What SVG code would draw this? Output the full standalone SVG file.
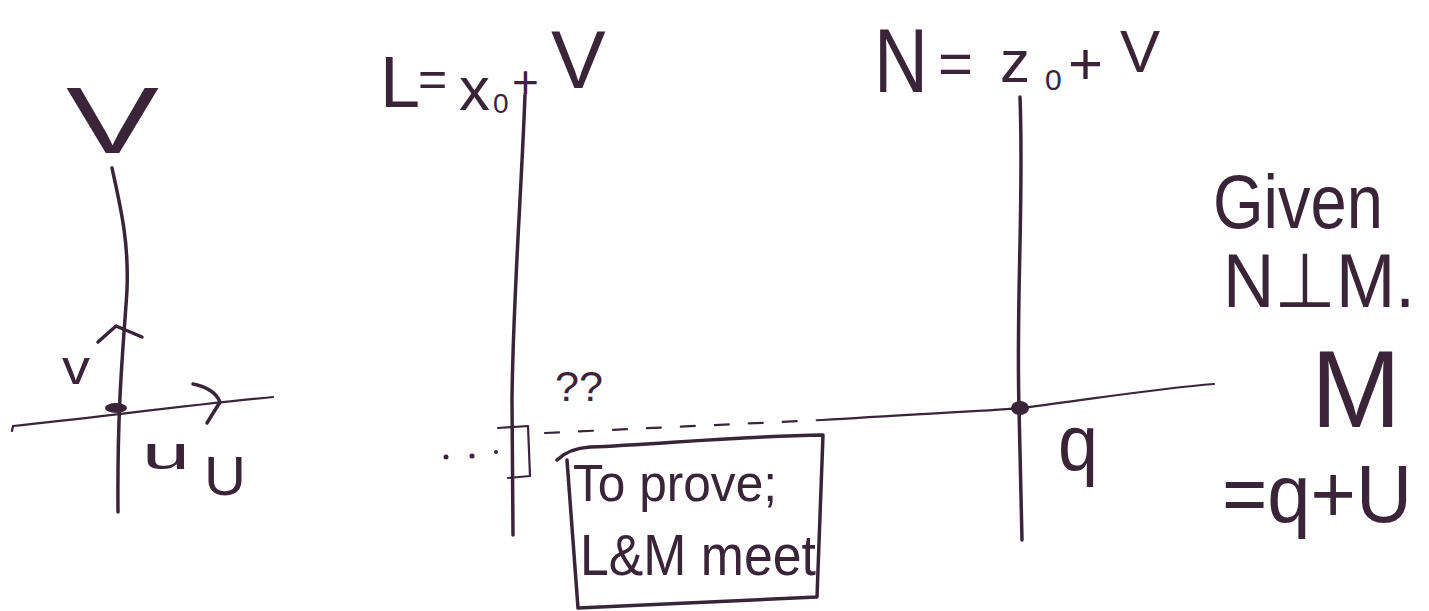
<svg xmlns="http://www.w3.org/2000/svg" width="1429" height="611" viewBox="0 0 1429 611">
<style>
.ink{stroke:#3a2538;stroke-width:3.5;fill:none;stroke-linecap:round;stroke-linejoin:round}
.thin{stroke-width:2.2}
.t{font-family:"Liberation Sans",Arial,sans-serif;fill:#3a2538}
</style>
<rect width="1429" height="611" fill="#ffffff"/>
<g id="left-axes">
  <path class="ink" d="M112,168 C120,205 129,240 127,290 C124,340 117,400 118,512"/>
  <path class="ink thin" d="M12,431 L13,426 C90,418 190,405 273,397"/>
  <ellipse cx="116" cy="408" rx="11" ry="5" fill="#3a2538"/>
  <path class="ink" d="M98,342 L116,326 L142,337"/>
  <path class="ink" d="M193,384 Q214,388 220,402 L207,423"/>
  <text class="t" x="66" y="153" font-size="95" textLength="93" lengthAdjust="spacingAndGlyphs">V</text>
  <text class="t" x="62" y="384" font-size="48" textLength="28" lengthAdjust="spacingAndGlyphs">v</text>
  <text class="t" x="142" y="469" font-size="46" textLength="48" lengthAdjust="spacingAndGlyphs">u</text>
  <text class="t" x="204" y="495" font-size="56" textLength="42" lengthAdjust="spacingAndGlyphs">U</text>
</g>
<g id="line-L">
  <path class="ink" d="M525,95 C521,200 513,300 512,400 L513,535"/>
  <text class="t" font-size="72"><tspan x="380" y="107">L</tspan><tspan x="418" y="96" font-size="50">=</tspan><tspan x="459" y="110" font-size="62">x</tspan><tspan x="493" y="113" font-size="28">0</tspan><tspan x="512" y="98" font-size="46">+</tspan><tspan x="551" y="88" font-size="82">V</tspan></text>
</g>
<g id="line-N">
  <path class="ink" d="M1020,97 C1024,200 1016,300 1019,408 L1022,540"/>
  <ellipse cx="1020" cy="408" rx="9" ry="7" fill="#3a2538"/>
  <text class="t" font-size="90"><tspan x="874" y="92" textLength="54" lengthAdjust="spacingAndGlyphs">N</tspan><tspan x="938" y="84" font-size="60">=</tspan><tspan x="1000" y="82" font-size="60">z</tspan><tspan x="1045" y="90" font-size="30">0</tspan><tspan x="1068" y="84" font-size="60">+</tspan><tspan x="1120" y="72" font-size="60">V</tspan></text>
  <text class="t" x="1058" y="470" font-size="80" textLength="40" lengthAdjust="spacingAndGlyphs">q</text>
</g>
<g id="connectors">
  <path class="ink thin" d="M822,420 C900,415 1000,410 1022,408 C1100,398 1160,388 1214,384"/>
  <path class="ink thin" d="M545,433 L822,420" stroke-dasharray="14 20"/>
  <path class="ink thin" d="M498,428 L528,426 L530,476 L508,478"/>
  <g fill="#3a2538"><circle cx="446" cy="457" r="2.5"/><circle cx="472" cy="456" r="2.5"/><circle cx="496" cy="452" r="2"/></g>
</g>
<g id="note-box">
  <path class="ink" d="M557,460 C565,452 575,448 590,447 C660,444 740,436 823,435 L817,597 C740,600 660,604 578,608 L567,460"/>
  <text class="t" x="573" y="501" font-size="52" textLength="204" lengthAdjust="spacingAndGlyphs">To prove;</text>
  <text class="t" x="580" y="575" font-size="58" textLength="236" lengthAdjust="spacingAndGlyphs">L&amp;M meet</text>
  <text class="t" x="555" y="401" font-size="42" textLength="48" lengthAdjust="spacingAndGlyphs">??</text>
</g>
<g id="given">
  <text class="t" x="1213" y="228" font-size="76" textLength="170" lengthAdjust="spacingAndGlyphs">Given</text>
  <text class="t" x="1223" y="307" font-size="76" textLength="192" lengthAdjust="spacingAndGlyphs">N⊥M.</text>
  <text class="t" x="1311" y="427" font-size="110" textLength="90" lengthAdjust="spacingAndGlyphs">M</text>
  <text class="t" x="1222" y="522" font-size="82" textLength="190" lengthAdjust="spacingAndGlyphs">=q+U</text>
</g>
</svg>
